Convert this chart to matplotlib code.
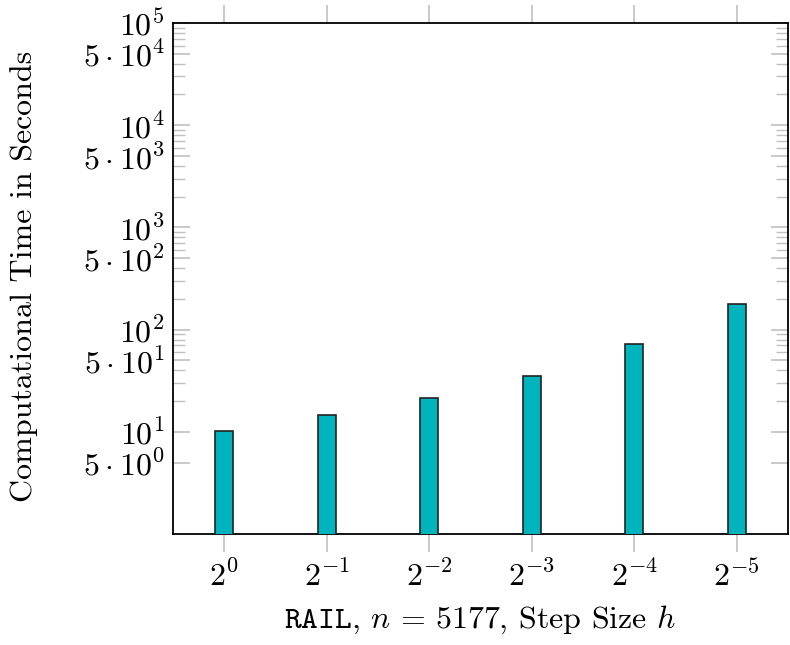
import matplotlib
matplotlib.use("Agg")
import matplotlib.pyplot as plt
import numpy as np

plt.rcParams['mathtext.fontset'] = 'cm'
plt.rcParams['font.family'] = 'serif'
plt.rcParams['font.serif'] = ['cmr10', 'DejaVu Serif']
plt.rcParams['axes.formatter.use_mathtext'] = True

categories = [r'$2^{0}$', r'$2^{-1}$', r'$2^{-2}$', r'$2^{-3}$', r'$2^{-4}$', r'$2^{-5}$']
times = [10.3, 14.5, 21.5, 35.5, 71.8, 176.6]

major_ticks = [5, 10, 50, 100, 500, 1000, 5000, 10000, 50000, 100000]
major_labels = [r'$5\cdot10^{0}$', r'$10^{1}$', r'$5\cdot10^{1}$', r'$10^{2}$',
                r'$5\cdot10^{2}$', r'$10^{3}$', r'$5\cdot10^{3}$', r'$10^{4}$',
                r'$5\cdot10^{4}$', r'$10^{5}$']
minor_ticks = [m * 10**k for k in range(1, 5) for m in (2, 3, 4, 6, 7, 8, 9)]

fig = plt.figure(figsize=(7.9, 6.45), dpi=100)
ax = fig.add_axes([0.219, 0.172, 0.7785, 0.7923])
ax.set_yscale('log')

x = np.arange(len(categories))
ax.bar(x, times, width=0.175, color='#00B4BE', edgecolor='#222222', linewidth=1.2, zorder=3)

ax.set_ylim(1, 1e5)
ax.set_xlim(-0.5, len(categories) - 0.5)

ax.set_yticks(major_ticks)
ax.set_yticklabels(major_labels)
ax.set_yticks(minor_ticks, minor=True)
ax.yaxis.set_minor_formatter(matplotlib.ticker.NullFormatter())
ax.set_xticks(x)
ax.set_xticklabels(categories)

ax.tick_params(axis='y', which='major', direction='in', length=12.5, width=1.2,
               color='#c0c0c0', left=True, right=True, labelsize=23, pad=6)
ax.tick_params(axis='y', which='minor', direction='in', length=8.5, width=1.0,
               color='#c0c0c0', left=True, right=True)
ax.tick_params(axis='x', which='major', direction='out', length=13, width=1.2,
               color='#c0c0c0', top=True, bottom=True, labelsize=23, pad=6)
ax.tick_params(axis='x', which='minor', bottom=False, top=False)

for s in ax.spines.values():
    s.set_linewidth(1.3)
    s.set_color('black')

ax.set_ylabel('Computational Time in Seconds', fontsize=23)
ax.yaxis.set_label_coords(-0.22, 0.505)
ax.set_xlabel(r'$\mathtt{RAIL}$, $n\,=\,5177$, Step Size $h$', fontsize=23)
ax.xaxis.set_label_coords(0.5, -0.137)

fig.savefig('out.png', dpi=100)
